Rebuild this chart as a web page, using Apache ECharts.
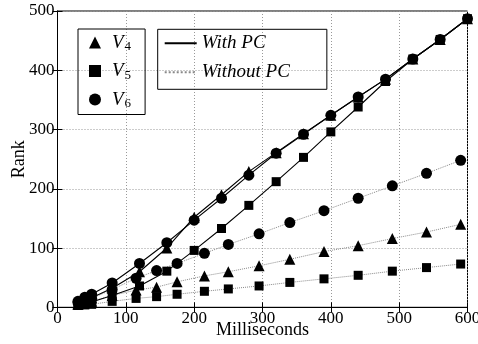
<!DOCTYPE html>
<html>
<head>
<meta charset="utf-8">
<script src="https://cdn.jsdelivr.net/npm/echarts@6/dist/echarts.min.js"></script>
<style>
html, body { margin: 0; padding: 0; background: #fff; }
#chart { width: 478px; height: 344px; }
</style>
</head>
<body>
<div id="chart"></div>
<script>
// with PC (solid lines)
var xWith = [30, 40, 50, 80, 120, 160, 200, 240, 280, 320, 360, 400, 440, 480, 520, 560, 600];
var v4With = [6, 12, 16, 32, 60, 100, 152, 190, 229, 261, 293, 324, 355, 385, 419, 452, 487];
var v5With = [3, 6, 9, 20, 36, 61, 96, 133, 172, 212, 253, 296, 338, 381, 419, 452, 487];
var v6With = [10, 17, 22, 41, 74, 109, 147, 184, 223, 260, 292, 324, 355, 385, 419, 452, 487];

// without PC (dotted lines)
var xWithout = [30, 40, 50, 80, 115, 145, 175, 215, 250, 295, 340, 390, 440, 490, 540, 590];
var v4Without = [5, 8, 10, 20, 29, 34, 43, 53, 60, 70, 81, 94, 104, 116, 127, 140];
var v5Without = [3, 4, 5, 10, 15, 18, 22, 27, 31, 36, 42, 48, 54, 61, 67, 73];
var v6Without = [8, 12, 15, 30, 49, 62, 74, 91, 106, 124, 143, 163, 184, 205, 226, 248];

var xTicks = [0, 100, 200, 300, 400, 500, 600];
var yTicks = [0, 100, 200, 300, 400, 500];

function pairs(xs, ys) {
  return xs.map(function (x, i) { return [x, ys[i]]; });
}

var font = "Liberation Serif";
var myChart = echarts.init(document.getElementById("chart"));

function mk(name, xs, ys, symbol, size, dotted) {
  return {
    name: name,
    type: "line",
    data: pairs(xs, ys),
    symbol: symbol,
    symbolSize: size,
    showAllSymbol: true,
    itemStyle: { color: "#000" },
    lineStyle: dotted
      ? { color: "#888", width: 1, type: "dotted" }
      : { color: "#000", width: 1.1 },
    z: dotted ? 2 : 3
  };
}

myChart.setOption({
  animation: false,
  grid: {
    left: 57.5,
    right: 10.5,
    top: 11,
    bottom: 36.7,
    outerBoundsMode: "none",
    containLabel: false,
    show: true,
    borderColor: "#000",
    borderWidth: 1
  },
  legend: [
    {
      left: 78,
      top: 29,
      orient: "vertical",
      itemWidth: 12,
      itemHeight: 12,
      itemGap: 8,
      padding: [4, 14, 4, 11],
      borderColor: "#000",
      borderWidth: 1,
      selectedMode: false,
      data: [
        { name: "V4", icon: "triangle" },
        { name: "V5", icon: "rect" },
        { name: "V6", icon: "circle" }
      ],
      formatter: function (name) {
        return "{v|V}{s|" + name.charAt(1) + "}";
      },
      textStyle: {
        padding: [0, 0, 0, 6],
        rich: {
          v: { fontFamily: font, fontStyle: "italic", fontSize: 19, color: "#000", lineHeight: 22 },
          s: { fontFamily: font, fontSize: 13, color: "#000", lineHeight: 12, verticalAlign: "bottom", padding: [0, 0, 0, 1] }
        }
      }
    },
    {
      left: 157.7,
      top: 29.3,
      orient: "vertical",
      itemWidth: 32,
      itemHeight: 12,
      itemGap: 9,
      padding: [4, 37, 7, 6],
      borderColor: "#000",
      borderWidth: 1,
      selectedMode: false,
      // hide the marker that line legends always draw
      itemStyle: { color: "rgba(0,0,0,0)", borderWidth: 0, opacity: 0 },
      data: ["With PC", "Without PC"],
      textStyle: {
        fontFamily: font,
        fontStyle: "italic",
        fontSize: 19,
        color: "#000",
        lineHeight: 20
      }
    }
  ],
  xAxis: [
    {
      type: "value",
      min: 0,
      max: 600,
      interval: 100,
      name: "Milliseconds",
      nameLocation: "middle",
      nameGap: 14,
      nameMoveOverlap: false,
      nameTextStyle: { fontFamily: font, fontSize: 18, color: "#000", verticalAlign: "top" },
      axisLine: { lineStyle: { color: "#000" } },
      axisTick: { inside: true, length: 5, lineStyle: { color: "#000" } },
      axisLabel: {
        margin: 3,
        fontFamily: font,
        fontSize: 17,
        color: "#000",
        formatter: function (v) { return xTicks.indexOf(v) >= 0 ? String(v) : ""; }
      },
      splitLine: { show: true, lineStyle: { color: "#999", type: [1, 2] } }
    },
    {
      type: "value",
      position: "top",
      min: 0,
      max: 600,
      interval: 100,
      axisLine: { lineStyle: { color: "#000" } },
      axisTick: { inside: true, length: 5, lineStyle: { color: "#000" } },
      axisLabel: { show: false },
      splitLine: { show: false }
    }
  ],
  yAxis: [
    {
      type: "value",
      min: 0,
      max: 500,
      interval: 100,
      name: "Rank",
      nameLocation: "middle",
      nameGap: 29,
      nameMoveOverlap: false,
      nameTextStyle: { fontFamily: font, fontSize: 18, color: "#000" },
      axisLine: { show: true, lineStyle: { color: "#000" } },
      axisTick: { show: true, inside: true, length: 5, lineStyle: { color: "#000" } },
      axisLabel: {
        margin: 3,
        fontFamily: font,
        fontSize: 17,
        color: "#000",
        formatter: function (v) { return yTicks.indexOf(v) >= 0 ? String(v) : ""; }
      },
      splitLine: { show: true, lineStyle: { color: "#999", type: [1, 2] } }
    },
    {
      type: "value",
      position: "right",
      min: 0,
      max: 500,
      interval: 100,
      axisLine: { show: true, lineStyle: { color: "#000" } },
      axisTick: { show: true, inside: true, length: 5, lineStyle: { color: "#000" } },
      axisLabel: { show: false },
      splitLine: { show: false }
    }
  ],
  series: [
    mk("V4", xWith, v4With, "triangle", 11, false),
    mk("V5", xWith, v5With, "rect", 9, false),
    mk("V6", xWith, v6With, "circle", 11, false),
    mk("V4 ", xWithout, v4Without, "triangle", 11, true),
    mk("V5 ", xWithout, v5Without, "rect", 9, true),
    mk("V6 ", xWithout, v6Without, "circle", 11, true),
    {
      // legend-only entries, points lie outside the axes and are clipped
      name: "With PC",
      type: "line",
      data: [[-100, -100], [-90, -90]],
      symbol: "none",
      clip: true,
      itemStyle: { color: "#000" },
      lineStyle: { color: "#000", width: 1.1 }
    },
    {
      name: "Without PC",
      type: "line",
      data: [[-100, -100], [-90, -90]],
      symbol: "none",
      clip: true,
      itemStyle: { color: "#888" },
      lineStyle: { color: "#888", width: 1.2, type: "dotted" }
    }
  ]
});
</script>
</body>
</html>
